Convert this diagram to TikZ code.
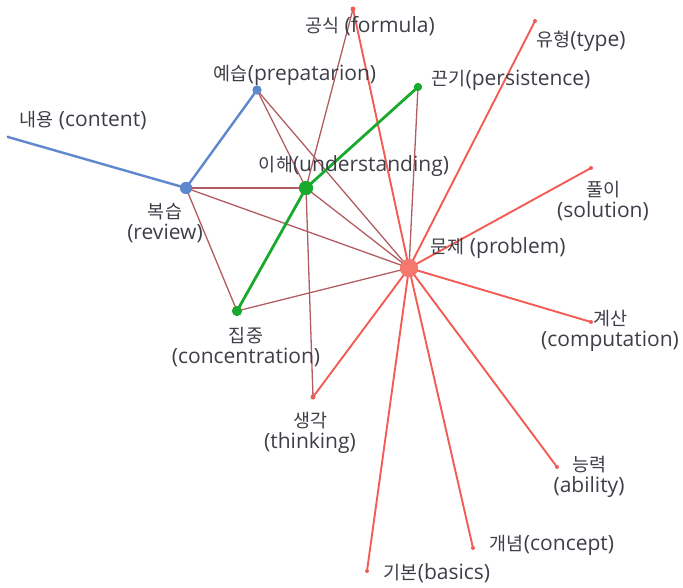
\documentclass[tikz,border=0pt]{standalone}
\usepackage{fontspec}
\setmainfont{Open Sans}
\newfontfamily\kr[Scale=0.88]{Noto Sans CJK KR}
\definecolor{salmon}{RGB}{242,92,84}
\definecolor{salmondot}{RGB}{244,120,110}
\definecolor{brownl}{RGB}{178,92,98}
\definecolor{bluel}{RGB}{95,135,205}
\definecolor{greenl}{RGB}{25,170,45}
\definecolor{txt}{RGB}{62,62,72}
\begin{document}
\begin{tikzpicture}[x=1pt,y=-1pt,
  dot/.style={circle,inner sep=0pt,draw=none},
  leaf/.style={dot,fill=salmon,minimum size=5pt},
  lbl/.style={text=txt,font=\fontsize{21}{21}\selectfont,align=center,inner sep=0pt},
  redl/.style={draw=salmon,line width=1.9pt},
  brl/.style={draw=brownl,line width=1.3pt},
  blul/.style={draw=bluel,line width=2.4pt},
  grl/.style={draw=greenl,line width=2.8pt}]
\useasboundingbox (0,0) rectangle (683,588);
% nodes
\node[dot,fill=salmondot,minimum size=18pt] (prob) at (409,268) {};
\node[dot,fill=bluel,minimum size=12pt] (rev) at (186,188) {};
\node[dot,fill=bluel,minimum size=9pt] (prep) at (257,90) {};
\node[dot,fill=greenl,minimum size=14pt] (und) at (306,188) {};
\node[dot,fill=greenl,minimum size=8pt] (pers) at (418,87) {};
\node[dot,fill=greenl,minimum size=10pt] (conc) at (237,311) {};
\node[leaf] (think) at (313,397) {};
\node[leaf] (form) at (353,9) {};
\node[leaf,minimum size=4pt] (type) at (535,21) {};
\node[leaf,minimum size=4pt] (sol) at (591,168) {};
\node[leaf,minimum size=4pt] (comp) at (591,322) {};
\node[leaf,minimum size=4pt] (abil) at (557,467) {};
\node[leaf,minimum size=4pt] (concept) at (473,548) {};
\node[leaf,minimum size=4pt] (basic) at (367,571) {};
\node[dot,fill=brownl,minimum size=3pt] (cont) at (8,137) {};
% brown edges
\draw[brl] (prep.center) -- (und.center);
\draw[brl] (prep.center) -- (prob.center);
\draw[brl] (form.center) -- (und.center);
\draw[brl] (rev.center) -- (und.center);
\draw[brl] (rev.center) -- (prob.center);
\draw[brl] (rev.center) -- (conc.center);
\draw[brl] (conc.center) -- (prob.center);
\draw[brl] (und.center) -- (prob.center);
\draw[brl] (und.center) -- (think.center);
\draw[brl] (pers.center) -- (prob.center);
% red edges
\foreach \t in {form,type,sol,comp,abil,concept,basic,think}
  \draw[redl] (prob.center) -- (\t.center);
% blue edges
\draw[blul] (rev.center) -- (cont.center);
\draw[blul] (rev.center) -- (prep.center);
% green edges
\draw[grl] (pers.center) -- (und.center);
\draw[grl] (und.center) -- (conc.center);
% redraw dots on top
\node[dot,fill=salmondot,minimum size=18pt] at (prob) {};
\node[dot,fill=bluel,minimum size=12pt] at (rev) {};
\node[dot,fill=bluel,minimum size=9pt] at (prep) {};
\node[dot,fill=greenl,minimum size=14pt] at (und) {};
\node[dot,fill=greenl,minimum size=8pt] at (pers) {};
\node[dot,fill=greenl,minimum size=10pt] at (conc) {};
% labels
\node[lbl] (lformula) at (370,26) {{\kr 공식} (formula)};
\node[lbl] (ltype) at (581,41) {{\kr 유형}(type)};
\node[lbl] (lprep) at (295,75) {{\kr 예습}(prepatarion)};
\node[lbl] (lpers) at (511,80) {{\kr 끈기}(persistence)};
\node[lbl] (lcont) at (83,121) {{\kr 내용} (content)};
\node[lbl] (lund) at (354,166) {{\kr 이해}(understanding)};
\node[lbl] (lsol) at (603,201) {{\kr 풀이}\\(solution)};
\node[lbl] (lrev) at (165,223) {{\kr 복습}\\(review)};
\node[lbl] (lprob) at (498,248) {{\kr 문제} (problem)};
\node[lbl] (lconc) at (246,347) {{\kr 집중}\\(concentration)};
\node[lbl] (lcomp) at (610,331) {{\kr 계산}\\(computation)};
\node[lbl] (lthink) at (310,433) {{\kr 생각}\\(thinking)};
\node[lbl] (labil) at (589,477) {{\kr 능력}\\(ability)};
\node[lbl] (lconcept) at (552,545) {{\kr 개념}(concept)};
\node[lbl] (lbasic) at (437,573) {{\kr 기본}(basics)};
\end{tikzpicture}
\end{document}
